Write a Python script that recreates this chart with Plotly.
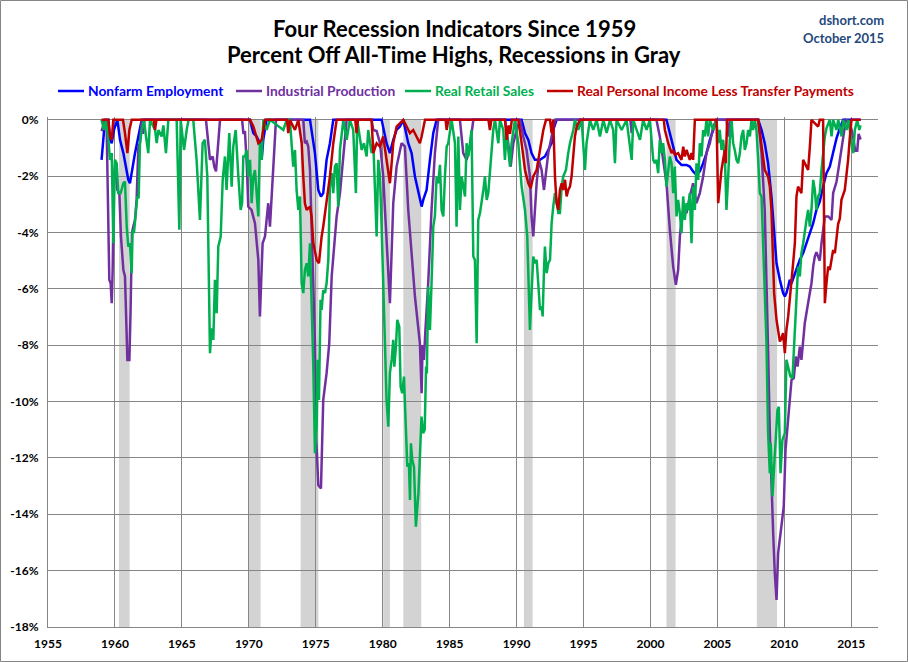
import plotly.graph_objects as go

# Recession periods (decimal years)
rec_start = [1960.30, 1969.95, 1973.87, 1980.04, 1981.54, 1990.55, 2001.20, 2007.95]
rec_end = [1961.10, 1970.88, 1975.20, 1980.54, 1982.88, 1991.20, 2001.88, 2009.46]

# Nonfarm Employment, % off all-time high
nfp_year = [1959.0, 1959.13, 1959.26, 1959.51, 1959.63, 1959.76, 1959.93, 1960.18, 1960.38, 1960.63,
            1960.83, 1961.0, 1961.12, 1961.32, 1961.5, 1961.75, 1962.0, 1970.09, 1970.34, 1970.58,
            1970.83, 1970.96, 1971.08, 1971.33, 1974.57, 1974.94, 1975.19, 1975.39, 1975.56, 1975.81,
            1976.06, 1976.31, 1979.92, 1980.29, 1980.54, 1980.79, 1981.04, 1981.29, 1981.54, 1981.91,
            1982.16, 1982.41, 1982.66, 1982.91, 1983.03, 1983.28, 1983.53, 1983.78, 1984.03, 1990.38,
            1990.63, 1990.88, 1991.12, 1991.37, 1991.75, 1992.12, 1992.37, 1992.62, 1992.74, 1992.99,
            2001.2, 2001.45, 2001.7, 2001.95, 2002.32, 2002.7, 2002.94, 2003.19, 2003.44, 2003.69,
            2003.94, 2004.19, 2004.44, 2004.69, 2004.94, 2008.05, 2008.3, 2008.54, 2008.79, 2009.04,
            2009.17, 2009.29, 2009.42, 2009.67, 2009.91, 2010.04, 2010.16, 2010.29, 2010.41, 2010.54,
            2010.79, 2011.16, 2011.41, 2011.66, 2011.91, 2012.16, 2012.4, 2012.65, 2012.9, 2013.15,
            2013.4, 2013.65, 2013.9, 2014.15, 2014.4, 2015.7]
nfp_pct = [-1.42, -0.71, 0, 0, -0.71, -0.83, -0.35, 0, -0.71, -1.18,
           -1.66, -2.13, -2.25, -1.66, -1.18, -0.59, 0, 0, -0.47, -0.59,
           -0.83, -1.42, -0.71, 0, 0, -1.18, -2.49, -2.72, -2.6, -1.42,
           -0.83, 0, 0, -0.83, -1.18, -0.71, -0.36, -0.24, 0, -0.83,
           -1.18, -2.01, -2.6, -3.08, -2.84, -2.49, -1.42, -0.47, 0, 0,
           -0.47, -0.71, -1.18, -1.42, -1.42, -1.3, -1.07, -0.83, -0.36, 0,
           0, -0.47, -0.95, -1.42, -1.6, -1.6, -1.66, -1.83, -1.95, -1.83,
           -1.54, -1.18, -0.71, -0.36, 0, 0, -0.36, -0.83, -1.54, -2.72,
           -3.55, -4.38, -5.09, -5.68, -6.15, -6.27, -6.15, -5.92, -5.68, -5.8,
           -5.44, -4.97, -4.73, -4.38, -4.05, -3.67, -3.2, -2.9, -2.37, -1.89,
           -1.66, -1.18, -0.66, -0.3, 0, 0]

# Industrial Production
ip_year = [1959.0, 1959.26, 1959.38, 1959.51, 1959.58, 1959.68, 1959.76, 1959.83, 1959.93, 1960.03,
           1960.18, 1960.33, 1960.45, 1960.63, 1960.75, 1960.93, 1961.08, 1961.17, 1961.27, 1961.37,
           1961.5, 1961.62, 1961.75, 1961.87, 1962.0, 1962.1, 1962.2, 1966.8, 1966.97, 1967.1,
           1967.3, 1967.42, 1967.55, 1967.72, 1967.85, 1969.5, 1969.6, 1969.71, 1969.85, 1969.96,
           1970.2, 1970.46, 1970.71, 1970.83, 1971.03, 1971.21, 1971.45, 1971.58, 1971.83, 1972.03,
           1974.07, 1974.19, 1974.32, 1974.44, 1974.57, 1974.69, 1974.82, 1974.94, 1975.02, 1975.19,
           1975.39, 1975.56, 1975.81, 1976.01, 1976.19, 1976.56, 1976.81, 1977.06, 1977.31, 1979.17,
           1979.3, 1979.55, 1979.8, 1980.04, 1980.29, 1980.54, 1980.79, 1981.04, 1981.41, 1981.66,
           1981.91, 1982.16, 1982.41, 1982.78, 1982.91, 1982.98, 1983.08, 1983.18, 1983.4, 1983.65,
           1983.9, 1984.15, 1985.77, 1986.02, 1986.27, 1986.52, 1986.77, 1989.13, 1989.38, 1989.56,
           1989.76, 1990.01, 1990.26, 1990.5, 1990.75, 1991.0, 1991.12, 1991.25, 1991.37, 1991.5,
           1991.67, 1991.87, 1992.05, 1992.2, 1992.37, 1992.62, 1992.87, 1998.5, 1998.6, 1998.72,
           2000.45, 2000.7, 2000.95, 2001.2, 2001.45, 2001.58, 2001.7, 2001.9, 2002.07, 2002.2,
           2002.32, 2002.45, 2002.7, 2002.94, 2003.19, 2003.44, 2003.69, 2003.94, 2004.19, 2004.44,
           2004.69, 2004.94, 2005.7, 2005.8, 2005.95, 2008.05, 2008.3, 2008.54, 2008.67, 2008.79,
           2008.92, 2009.04, 2009.17, 2009.29, 2009.42, 2009.54, 2009.79, 2009.96, 2010.09, 2010.29,
           2010.41, 2010.54, 2010.71, 2010.86, 2010.99, 2011.16, 2011.28, 2011.41, 2011.53, 2011.78,
           2012.03, 2012.16, 2012.28, 2012.4, 2012.65, 2012.78, 2012.9, 2013.03, 2013.28, 2013.53,
           2013.65, 2013.9, 2014.02, 2014.2, 2014.4, 2014.6, 2014.9, 2015.1, 2015.3, 2015.45,
           2015.55, 2015.7]
ip_pct = [-0.4, 0, -0.24, -3.2, -5.68, -5.8, -6.51, -5.33, -2.01, -1.54,
          -2.49, -2.6, -4.14, -5.33, -5.56, -8.52, -8.52, -6.75, -4.02, -3.79,
          -3.55, -2.84, -0.95, -0.83, 0, -0.5, 0, 0, -0.83, -1.42,
          -1.3, -1.66, -1.83, -0.83, 0, 0, -0.5, -0.4, -1.6, -3.08,
          -3.2, -3.67, -4.97, -6.98, -4.38, -4.14, -2.96, -3.79, -1.42, 0,
          0, -0.83, -0.77, -0.95, -1.78, -3.55, -5.56, -7.93, -11.12, -12.96,
          -13.08, -9.94, -8.99, -7.93, -5.56, -3.43, -2.6, -1.42, 0, 0,
          -0.36, -0.4, -0.83, -2.01, -4.38, -6.51, -2.96, -1.66, -0.83, -0.95,
          -3.2, -4.62, -6.27, -7.93, -9.7, -7.99, -8.52, -7.57, -5.8, -3.2,
          -1.18, 0, 0, -1.18, -1.42, -0.95, 0, 0, -0.83, -1.66,
          -0.83, -0.36, 0, -0.59, -1.07, -2.01, -3.43, -4.14, -3.2, -2.25,
          -1.42, -1.78, -2.49, -1.78, -1.18, -0.59, 0, 0, -0.47, 0,
          0, -0.59, -1.42, -2.25, -3.9, -4.62, -5.21, -5.86, -5.33, -4.14,
          -3.55, -3.2, -3.31, -2.72, -2.25, -2.96, -2.6, -2.01, -1.18, -0.83,
          -0.24, 0, 0, -0.6, 0, 0, -1.18, -3.2, -6.39, -8.17,
          -11.12, -13.25, -14.67, -16.09, -17.04, -15.38, -14.44, -13.73, -11.72, -10.65,
          -9.94, -9.23, -9.17, -8.4, -8.76, -8.05, -8.52, -7.81, -7.22, -6.5,
          -5.8, -5.2, -4.85, -4.7, -5.0, -4.38, -3.9, -3.43, -3.43, -3.55,
          -2.6, -2.2, -1.83, -1.3, -0.6, 0, -0.1, -0.5, -1.1, -1.1,
          -0.5, -0.7]

# Real Retail Sales
rrs_year = [1959.0, 1959.18, 1959.33, 1959.51, 1959.63, 1959.76, 1959.88, 1960.0, 1960.13, 1960.25,
            1960.43, 1960.63, 1960.75, 1960.88, 1961.0, 1961.12, 1961.25, 1961.32, 1961.42, 1961.55,
            1961.67, 1961.77, 1961.87, 1962.0, 1962.17, 1962.32, 1962.49, 1962.62, 1963.0, 1963.12,
            1963.25, 1963.49, 1963.62, 1963.81, 1963.99, 1964.61, 1964.81, 1964.91, 1965.16, 1965.36,
            1965.5, 1965.85, 1966.1, 1966.35, 1966.55, 1966.72, 1966.9, 1967.1, 1967.22, 1967.35,
            1967.47, 1967.6, 1967.72, 1967.9, 1968.05, 1968.22, 1968.34, 1968.54, 1968.72, 1968.84,
            1969.02, 1969.22, 1969.39, 1969.5, 1969.59, 1969.71, 1969.84, 1969.96, 1970.09, 1970.21,
            1970.34, 1970.46, 1970.71, 1970.83, 1970.96, 1971.08, 1971.33, 1971.58, 1972.58, 1972.83,
            1973.07, 1973.32, 1973.45, 1973.57, 1973.7, 1973.82, 1973.95, 1974.07, 1974.19, 1974.32,
            1974.44, 1974.57, 1974.69, 1974.82, 1974.94, 1975.07, 1975.14, 1975.24, 1975.36, 1975.44,
            1975.56, 1975.69, 1975.81, 1975.94, 1976.06, 1976.19, 1976.31, 1976.43, 1976.56, 1976.68,
            1976.81, 1977.06, 1977.31, 1977.55, 1977.8, 1978.0, 1978.1, 1978.43, 1978.6, 1978.8,
            1978.92, 1979.17, 1979.3, 1979.42, 1979.55, 1979.67, 1979.8, 1979.92, 1980.04, 1980.19,
            1980.29, 1980.42, 1980.54, 1980.67, 1980.79, 1980.87, 1980.99, 1981.09, 1981.24, 1981.34,
            1981.46, 1981.59, 1981.74, 1981.84, 1981.96, 1982.04, 1982.11, 1982.21, 1982.34, 1982.48,
            1982.67, 1982.77, 1982.9, 1983.02, 1983.14, 1983.24, 1983.3, 1983.4, 1983.53, 1983.65,
            1983.78, 1983.9, 1984.03, 1984.15, 1984.28, 1984.4, 1984.53, 1984.65, 1984.78, 1984.9,
            1985.03, 1985.15, 1985.4, 1985.52, 1985.65, 1985.77, 1985.9, 1986.02, 1986.15, 1986.27,
            1986.4, 1986.52, 1986.64, 1986.77, 1986.89, 1987.02, 1987.14, 1987.27, 1987.39, 1987.52,
            1987.64, 1987.77, 1987.89, 1988.01, 1988.14, 1988.26, 1988.39, 1988.64, 1988.76, 1989.01,
            1989.13, 1989.26, 1989.51, 1989.63, 1989.88, 1990.13, 1990.38, 1990.63, 1990.8, 1991.0,
            1991.12, 1991.25, 1991.37, 1991.5, 1991.62, 1991.75, 1991.87, 1991.95, 1992.05, 1992.12,
            1992.25, 1992.37, 1992.5, 1992.62, 1992.74, 1992.87, 1992.99, 1993.12, 1993.24, 1993.37,
            1993.49, 1993.69, 1993.86, 1993.99, 1994.24, 1994.36, 1994.61, 1994.86, 1995.11, 1995.23,
            1995.48, 1995.73, 1995.98, 1996.23, 1996.48, 1996.73, 1996.98, 1997.22, 1997.35, 1997.47,
            1997.85, 1998.22, 1998.6, 1998.72, 1999.22, 1999.46, 1999.71, 1999.96, 2000.21, 2000.33,
            2000.45, 2000.58, 2000.7, 2000.83, 2000.95, 2001.08, 2001.2, 2001.33, 2001.45, 2001.58,
            2001.7, 2001.82, 2001.95, 2002.07, 2002.2, 2002.32, 2002.45, 2002.57, 2002.7, 2002.82,
            2002.94, 2003.07, 2003.19, 2003.32, 2003.44, 2003.57, 2003.69, 2003.82, 2003.94, 2004.06,
            2004.19, 2004.31, 2004.44, 2004.69, 2004.94, 2005.06, 2005.18, 2005.31, 2005.43, 2005.56,
            2005.68, 2005.81, 2005.93, 2006.06, 2006.18, 2006.3, 2006.43, 2006.55, 2006.68, 2006.8,
            2006.93, 2007.05, 2007.18, 2007.3, 2007.43, 2007.55, 2007.67, 2007.8, 2007.92, 2008.05,
            2008.17, 2008.3, 2008.42, 2008.54, 2008.67, 2008.79, 2008.92, 2008.99, 2009.12, 2009.24,
            2009.37, 2009.49, 2009.59, 2009.72, 2009.86, 2010.04, 2010.16, 2010.29, 2010.46, 2010.61,
            2010.71, 2010.81, 2010.91, 2011.03, 2011.16, 2011.28, 2011.41, 2011.53, 2011.66, 2011.78,
            2011.91, 2012.03, 2012.16, 2012.28, 2012.4, 2012.53, 2012.65, 2012.78, 2012.9, 2013.03,
            2013.15, 2013.4, 2013.53, 2013.65, 2013.9, 2014.03, 2014.28, 2014.4, 2014.65, 2014.8,
            2015.02, 2015.15, 2015.27, 2015.45, 2015.6, 2015.7]
rrs_pct = [0, -0.36, 0, -0.71, -1.42, -1.18, -4.38, -1.42, -1.54, -2.6,
           -2.6, -2.25, -2.19, -3.79, -4.5, -4.38, -5.44, -3.9, -4.02, -3.43,
           -2.72, -2.78, -0.83, -0.36, 0, -0.59, -1.18, 0, -0.36, -0.83,
           -0.36, -0.59, -0.2, -1.18, 0, 0, -3.9, 0, -1.07, -0.36,
           0, 0, -1.42, -3.55, -0.83, -0.71, -2.01, -8.28, -7.4, -7.81,
           -5.68, -6.86, -4.5, -4.14, -2.13, -1.3, -2.49, -0.47, -2.37, -0.95,
           -0.36, -2.01, -3.2, -2.96, -1.3, -1.3, -1.07, -2.01, -1.42, -2.96,
           -2.01, -1.78, -3.43, -0.83, -1.42, 0, -0.36, 0, -0.36, 0,
           0, -1.66, -1.07, -2.49, -3.2, -2.72, -5.8, -6.15, -5.33, -5.09,
           -5.56, -4.38, -6.15, -8.76, -11.83, -10.89, -8.52, -9.94, -6.39, -6.75,
           -6.04, -6.15, -5.8, -4.97, -2.37, -1.89, -2.6, -1.66, -1.54, -3.08,
           -1.07, 0, -0.71, 0, -0.36, -2.6, 0, -1.07, -0.83, -1.3,
           -0.36, -1.18, -0.83, -2.25, -4.14, -1.42, -2.01, -3.79, -5.56, -8.17,
           -9.94, -10.89, -8.99, -8.52, -7.81, -8.76, -8.05, -7.1, -7.34, -9.47,
           -9.7, -9.11, -11.12, -12.31, -12.19, -13.49, -11.48, -12.07, -12.31, -14.44,
           -13.25, -11.72, -10.53, -11.12, -11.0, -8.76, -9.0, -5.92, -7.46, -5.8,
           -3.79, -3.43, -2.01, -2.25, -1.6, -3.2, -3.43, -2.01, -0.95, -0.83,
           -0.36, 0, -0.83, -3.79, -0.59, -3.2, -2.01, -2.37, -2.72, -0.83,
           -1.3, -0.83, -0.36, -4.85, -4.97, -7.93, -3.55, -3.31, -2.96, -2.49,
           -2.01, -2.84, -2.6, -1.78, -0.83, -0.36, 0, -0.83, 0, -0.36,
           -1.42, -0.47, -1.66, -0.83, 0, -0.83, -2.37, -3.2, -4.14, -7.46,
           -6.15, -4.85, -5.09, -4.97, -5.8, -6.75, -6.63, -6.98, -5.33, -4.5,
           -5.44, -5.09, -4.97, -3.67, -3.08, -2.6, -2.84, -3.31, -3.31, -2.37,
           -2.01, -1.78, -1.18, -0.83, -0.36, 0, -0.36, 0, -1.78, -0.83,
           0, -0.36, 0, -0.59, 0, -0.47, 0, -0.36, -1.54, 0,
           -0.36, 0, -1.42, 0, -0.71, 0, -0.36, 0, -1.42, -1.54,
           -1.42, -1.89, -0.71, -1.18, -0.83, -1.42, -2.37, -1.78, -1.3, -1.54,
           -2.6, -1.66, -3.43, -2.84, -3.31, -4.02, -2.72, -3.55, -2.96, -3.2,
           -2.6, -4.38, -2.37, -3.2, -1.54, -2.13, -0.83, -1.3, -0.36, -0.59,
           0, -0.59, 0, -0.36, 0, -0.83, -0.36, -1.07, -0.71, -1.3,
           -3.2, -2.01, -0.71, 0, -0.83, -1.07, -1.42, -1.54, -1.18, -0.59,
           -0.36, -1.07, -0.83, -0.36, -0.59, 0, -0.36, 0, -0.36, -1.42,
           -2.6, -2.72, -4.38, -6.15, -7.93, -11.12, -12.54, -11.48, -13.37, -12.31,
           -11.36, -10.3, -10.18, -12.54, -11.36, -11.12, -8.52, -8.76, -9.11, -9.17,
           -8.17, -6.98, -5.92, -5.21, -5.56, -4.73, -4.38, -3.9, -3.55, -3.2,
           -3.79, -3.2, -2.13, -2.49, -3.2, -2.72, -2.6, -1.78, -1.07, -0.59,
           -0.3, 0, -0.59, 0, -0.36, 0, -0.59, 0, -0.36, 0,
           -0.83, -1.18, -0.36, 0, -0.36, -0.2]

# Real Personal Income Less Transfer Payments
rpi_year = [1959.0, 1959.51, 1959.63, 1959.76, 1959.88, 1960.6, 1960.75, 1960.93, 1961.08, 1961.25,
            1962.9, 1962.99, 1963.1, 1970.09, 1970.34, 1970.71, 1970.96, 1971.21, 1972.85, 1972.95,
            1973.07, 1973.45, 1973.7, 1973.95, 1974.07, 1974.19, 1974.32, 1974.57, 1974.69, 1974.82,
            1975.07, 1975.24, 1975.44, 1975.56, 1975.86, 1976.06, 1976.31, 1976.56, 1977.95, 1978.05,
            1978.15, 1979.17, 1979.3, 1979.55, 1979.8, 1980.04, 1980.29, 1980.54, 1980.67, 1980.79,
            1981.04, 1981.54, 1981.79, 1982.04, 1982.28, 1982.53, 1982.78, 1982.91, 1983.16, 1984.7,
            1984.78, 1984.9, 1987.9, 1988.01, 1988.12, 1989.15, 1989.26, 1989.4, 1989.51, 1989.65,
            1990.13, 1990.38, 1990.63, 1990.88, 1991.05, 1991.25, 1991.5, 1991.75, 1992.0, 1992.2,
            1992.5, 1992.62, 1992.74, 1992.87, 1992.99, 1993.12, 1993.24, 1993.37, 1993.49, 1993.62,
            1993.74, 1993.86, 1993.99, 1994.11, 1994.24, 1994.36, 1994.49, 1994.74, 2001.0, 2001.08,
            2001.33, 2001.58, 2001.7, 2001.82, 2002.07, 2002.32, 2002.45, 2002.57, 2002.7, 2002.82,
            2002.94, 2003.07, 2003.19, 2003.32, 2004.94, 2005.06, 2005.18, 2005.31, 2005.43, 2005.56,
            2005.63, 2005.73, 2008.05, 2008.3, 2008.54, 2008.79, 2008.92, 2009.04, 2009.17, 2009.24,
            2009.42, 2009.54, 2009.67, 2009.79, 2009.91, 2010.04, 2010.16, 2010.29, 2010.41, 2010.54,
            2010.66, 2010.79, 2010.91, 2011.03, 2011.16, 2011.28, 2011.41, 2011.53, 2011.66, 2011.78,
            2011.91, 2012.03, 2012.53, 2012.65, 2012.9, 2013.03, 2013.15, 2013.28, 2013.4, 2013.53,
            2013.65, 2013.78, 2013.9, 2014.02, 2014.15, 2014.27, 2014.52, 2014.65, 2014.77, 2014.9,
            2015.02, 2015.7]
rpi_pct = [0, 0, -0.59, -0.71, 0, 0, -0.47, -1.18, -0.36, 0,
           0, -0.36, 0, 0, -0.24, -0.83, -0.71, 0, 0, -0.47,
           0, -0.36, 0, -0.83, -2.01, -2.96, -3.2, -3.08, -3.43, -4.38,
           -4.97, -5.09, -4.14, -3.79, -2.72, -2.01, -0.83, 0, 0, -0.47,
           0, 0, -1.18, -0.83, -0.95, -0.59, -1.42, -2.25, -1.54, -0.83,
           -0.24, 0, -0.24, -0.47, -0.36, -0.59, -0.83, -0.59, 0, 0,
           -0.36, 0, 0, -0.36, 0, 0, -0.71, -0.2, -0.5, 0,
           0, -0.83, -1.78, -2.25, -2.43, -2.01, -1.78, -1.07, -0.36, 0,
           0, -0.47, 0, -2.01, -2.96, -3.2, -2.49, -2.25, -2.49, -2.13,
           -2.72, -2.49, -2.37, -2.01, -1.07, -0.59, -0.24, 0, 0, -0.36,
           -0.83, -1.18, -1.07, -1.24, -1.18, -1.42, -0.95, -1.3, -1.07, -1.3,
           -1.42, -1.18, -1.42, 0, 0, -2.96, -2.25, -1.78, -1.42, -1.07,
           -1.54, 0, 0, -0.83, -1.78, -2.01, -2.37, -3.2, -4.97, -6.15,
           -7.1, -7.57, -7.87, -7.75, -7.57, -8.28, -7.45, -6.98, -6.27, -5.8,
           -5.09, -4.38, -2.72, -2.37, -2.49, -2.6, -1.42, -1.54, -1.66, -1.78,
           -0.95, 0, -0.24, 0, 0, -6.51, -5.8, -5.21, -5.33, -4.97,
           -4.62, -4.73, -4.26, -3.7, -3.5, -2.84, -2.49, -2.0, -1.4, -0.6,
           0, 0]

y_ticks = [0, -2, -4, -6, -8, -10, -12, -14, -16, -18]
y_tick_labels = ['0%', '-2%', '-4%', '-6%', '-8%', '-10%', '-12%', '-14%', '-16%', '-18%']

series = [
    ('Nonfarm Employment', nfp_year, nfp_pct, '#0000FF'),
    ('Industrial Production', ip_year, ip_pct, '#7030A0'),
    ('Real Retail Sales', rrs_year, rrs_pct, '#00B050'),
    ('Real Personal Income Less Transfer Payments', rpi_year, rpi_pct, '#C00000'),
]

# pixel layout helpers (plot area: x 48..878, y 117..627)
def px_x(px):
    return (px - 48) / 830

def px_y(py):
    return (627 - py) / 510

fig = go.Figure()
for name, xs, ys, color in series:
    fig.add_trace(go.Scatter(
        x=xs, y=ys, mode='lines', name=name,
        line=dict(color=color, width=2.5),
    ))

# gray recession bands
for s, e in zip(rec_start, rec_end):
    fig.add_shape(type='rect', xref='x', yref='y', x0=s, x1=e, y0=-18, y1=0,
                  fillcolor='#D3D3D3', line=dict(width=0), layer='below')

# legend drawn by hand, one row like the original
legend_line_px = [58, 236, 405, 547]
for (name, _, _, color), lx in zip(series, legend_line_px):
    fig.add_shape(type='line', xref='paper', yref='paper',
                  x0=px_x(lx), x1=px_x(lx + 26), y0=px_y(91), y1=px_y(91),
                  line=dict(color=color, width=2.5))
    fig.add_annotation(text=name, xref='paper', yref='paper', x=px_x(lx + 28), y=px_y(91),
                       xanchor='left', yanchor='middle', showarrow=False,
                       font=dict(size=13.8, color=color, family='Lato', weight='bold'))

# chart border
fig.add_shape(type='rect', xref='paper', yref='paper',
              x0=px_x(0.5), x1=px_x(907.5), y0=px_y(661.5), y1=px_y(0.5),
              line=dict(color='#868686', width=1), fillcolor='rgba(0,0,0,0)')

# title, two lines
fig.add_annotation(text='Four Recession Indicators Since 1959', xref='paper', yref='paper',
                   x=px_x(454), y=px_y(29), xanchor='center', yanchor='middle', showarrow=False,
                   font=dict(size=22, color='#000000', family='Lato', weight='bold'))
fig.add_annotation(text='Percent Off All-Time Highs, Recessions in Gray', xref='paper', yref='paper',
                   x=px_x(454), y=px_y(55), xanchor='center', yanchor='middle', showarrow=False,
                   font=dict(size=22, color='#000000', family='Lato', weight='bold'))

fig.add_annotation(text='dshort.com', xref='paper', yref='paper', x=px_x(886), y=px_y(20),
                   xanchor='right', yanchor='middle', showarrow=False,
                   font=dict(size=13, color='#1F497D', family='Lato', weight='bold'))
fig.add_annotation(text='October 2015', xref='paper', yref='paper', x=px_x(886), y=px_y(38),
                   xanchor='right', yanchor='middle', showarrow=False,
                   font=dict(size=13, color='#1F497D', family='Lato', weight='bold'))

fig.update_layout(
    width=908, height=662,
    margin=dict(l=48, r=30, t=117, b=35, autoexpand=False),
    paper_bgcolor='white', plot_bgcolor='white',
    font=dict(family='Lato', size=12, color='#000000'),
    showlegend=False,
)
fig.update_xaxes(
    range=[1955, 2017], tick0=1955, dtick=5, tickformat='d', tickangle=0,
    showgrid=True, gridcolor='#868686', gridwidth=1,
    showline=True, linecolor='#868686', linewidth=1, zeroline=False,
    ticks='', tickfont=dict(size=12, weight='bold'), ticklabelstandoff=6,
)
fig.update_yaxes(
    range=[-18, 0.1], tickvals=y_ticks, ticktext=y_tick_labels,
    showgrid=True, gridcolor='#868686', gridwidth=1,
    showline=True, linecolor='#868686', linewidth=1, zeroline=False,
    ticks='', tickfont=dict(size=12, weight='bold'), ticklabelstandoff=6,
)

# page margin off so the 908x662 figure fills the window exactly; no modebar
fig.write_html("out.html", config={'displayModeBar': False},
               post_script="document.body.style.margin='0';")
